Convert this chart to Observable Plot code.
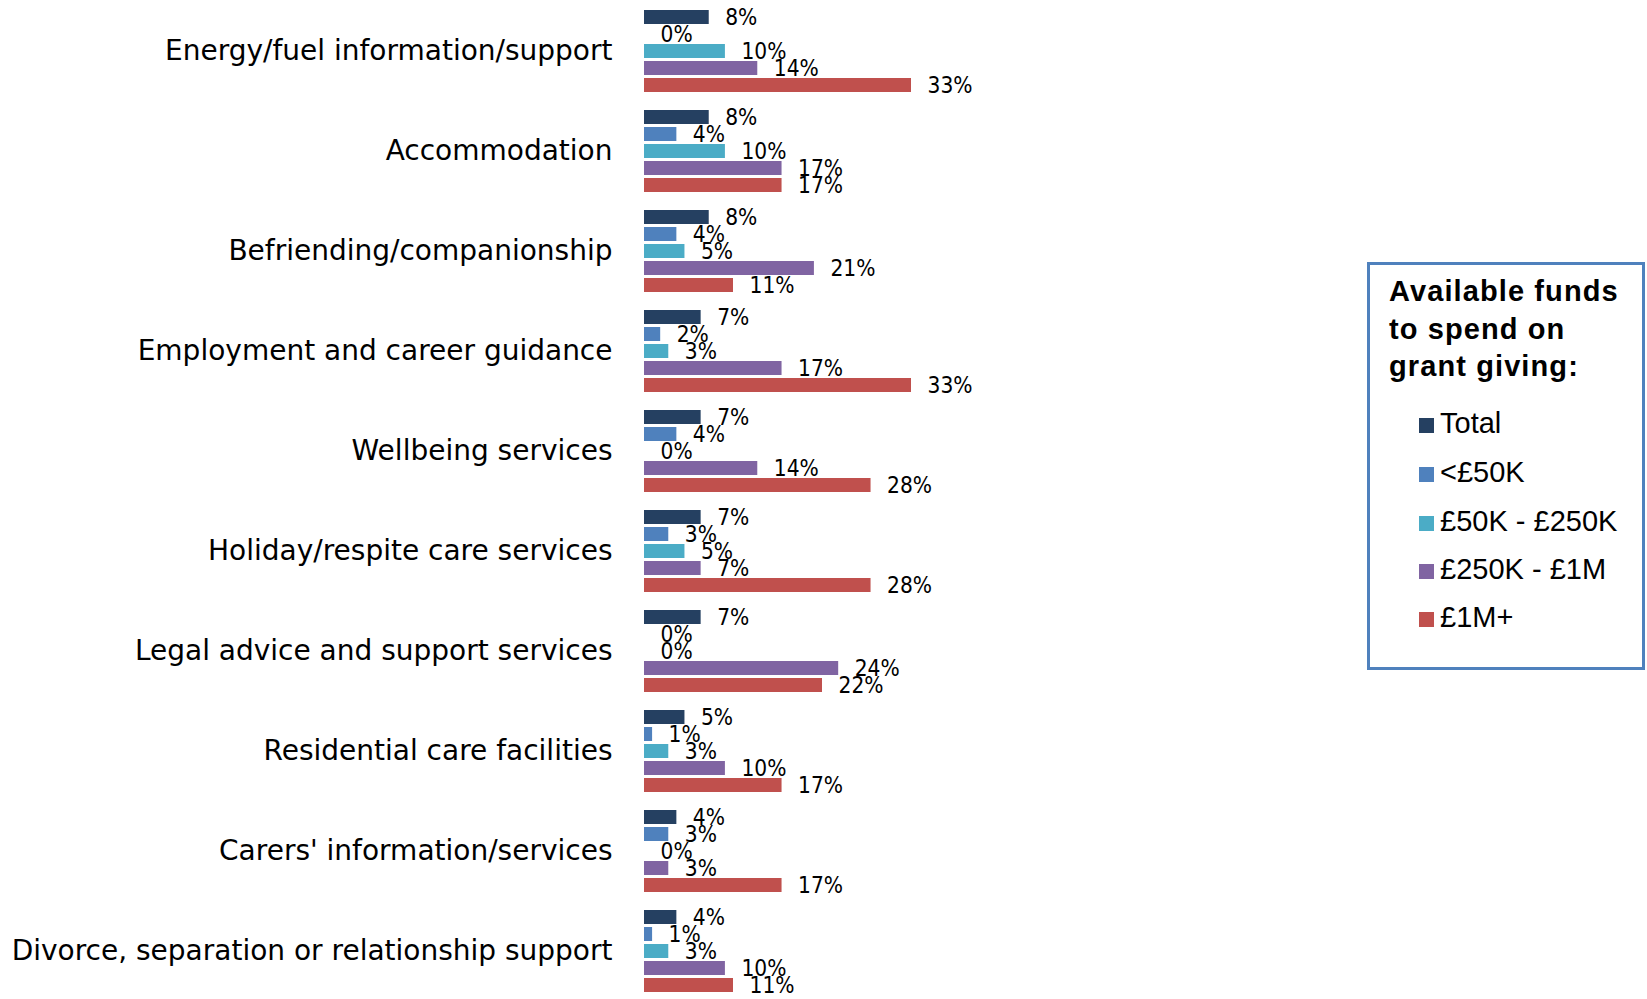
<!DOCTYPE html>
<html>
<head>
<meta charset="utf-8">
<script src="https://cdn.jsdelivr.net/npm/d3@7"></script>
<script src="https://cdn.jsdelivr.net/npm/@observablehq/plot@0.6"></script>
<style>
  html, body { margin: 0; padding: 0; background: #fff; overflow: hidden; }
  #wrap { position: relative; width: 1647px; height: 999px; }
  #legend {
    position: absolute; left: 1367px; top: 262px; width: 278px; height: 408px;
    box-sizing: border-box; border: 3px solid #4F81BD; background: #fff;
    font-family: "Liberation Sans", Arial, sans-serif; color: #000;
  }
  #legend .title {
    position: absolute; left: 19px; top: 8px; font-weight: bold; font-size: 29px; letter-spacing: 1.1px; line-height: 37.5px; white-space: nowrap;
  }
  #legend .item { position: absolute; left: 49px; font-size: 29px; white-space: nowrap; }
  #legend .sw { display: inline-block; width: 15px; height: 15px; margin-right: 6px; vertical-align: 0px; }
</style>
</head>
<body>
<div id="wrap"><div id="chart"></div><div id="legend"></div></div>
<script>
const categories = [
  "Energy/fuel information/support",
  "Accommodation",
  "Befriending/companionship",
  "Employment and career guidance",
  "Wellbeing services",
  "Holiday/respite care services",
  "Legal advice and support services",
  "Residential care facilities",
  "Carers' information/services",
  "Divorce, separation or relationship support"
];
const seriesNames = ["Total", "<£50K", "£50K - £250K", "£250K - £1M", "£1M+"];
const seriesColors = ["#254061", "#4F81BD", "#4BACC6", "#8064A2", "#C0504D"];
const total      = [8, 8, 8, 7, 7, 7, 7, 5, 4, 4];
const under50k   = [0, 4, 4, 2, 4, 3, 0, 1, 3, 1];
const k50to250   = [10, 10, 5, 3, 0, 5, 0, 3, 0, 3];
const k250to1m   = [14, 17, 21, 17, 14, 7, 24, 10, 3, 10];
const m1plus     = [33, 17, 11, 33, 28, 28, 22, 17, 17, 11];
const legendTitle = "Available funds<br>to spend on<br>grant giving:";

const seriesValues = [total, under50k, k50to250, k250to1m, m1plus];
const data = [];
categories.forEach((c, i) => {
  seriesNames.forEach((s, j) => data.push({category: c, series: s, value: seriesValues[j][i]}));
});

const chart = Plot.plot({
  width: 1647,
  height: 1001,
  marginTop: 1,
  marginBottom: 0,
  marginLeft: 644,
  marginRight: 736,
  style: {fontFamily: "'DejaVu Sans', sans-serif", fontSize: "28px", color: "#000", background: "transparent"},
  x: {domain: [0, 33], axis: null},
  y: {domain: seriesNames, paddingInner: 0.15, paddingOuter: 0.415, axis: null},
  fy: {domain: categories, padding: 0, label: null, tickSize: 0, tickPadding: 32, axis: "left"},
  color: {domain: seriesNames, range: seriesColors},
  marks: [
    Plot.barX(data, {x: "value", y: "series", fy: "category", fill: "series"}),
    Plot.text(data, {x: "value", y: "series", fy: "category", text: d => d.value + "%",
      textAnchor: "start", dx: 16, dy: 0, fontSize: 22.5, fill: "#000",
      fontFamily: "'DejaVu Sans Condensed', 'Liberation Sans Narrow', 'DejaVu Sans', sans-serif"})
  ]
});
document.getElementById("chart").appendChild(chart);

const legend = document.getElementById("legend");
const t = document.createElement("div");
t.className = "title";
t.innerHTML = legendTitle;
legend.appendChild(t);
const baselines = [434, 483, 531.5, 580, 628];
seriesNames.forEach((s, i) => {
  const it = document.createElement("div");
  it.className = "item";
  it.style.top = (baselines[i] - 262 - 3 - 27) + "px";
  it.style.lineHeight = "33px";
  const sw = document.createElement("span");
  sw.className = "sw";
  sw.style.background = seriesColors[i];
  it.appendChild(sw);
  it.appendChild(document.createTextNode(s));
  legend.appendChild(it);
});
</script>
</body>
</html>
